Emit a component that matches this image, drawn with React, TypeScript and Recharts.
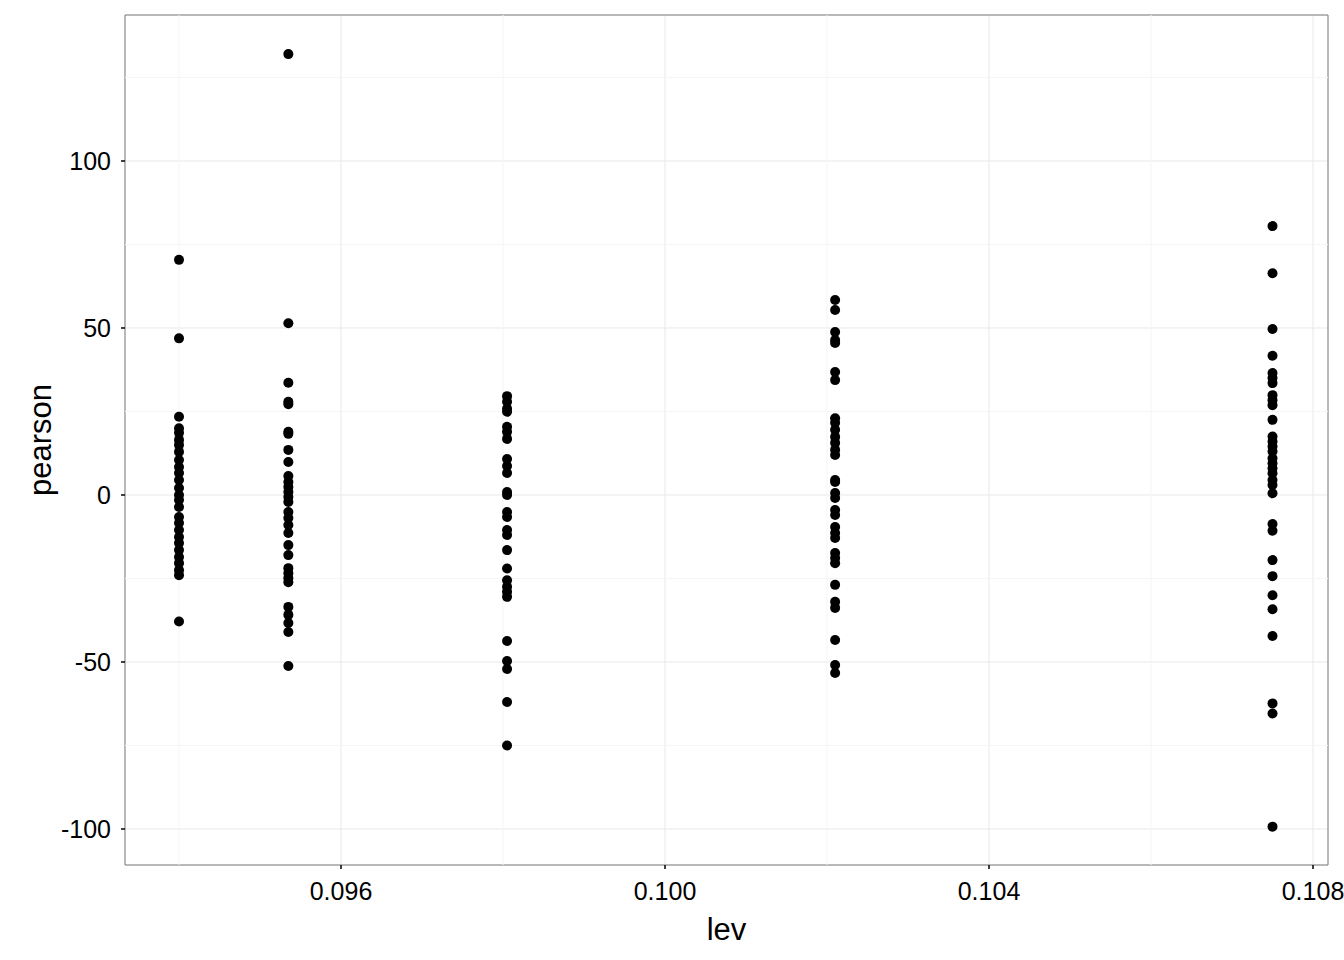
import React from "react";
import {
  ScatterChart,
  Scatter,
  XAxis,
  YAxis,
  CartesianGrid,
  ReferenceLine,
  ReferenceArea,
} from "recharts";

// leverage values (one per group) and pearson residuals
const levels = [0.094, 0.09535, 0.09805, 0.1021, 0.1075];

const pearsonA = [
  70.4, 46.9, 23.4, 20, 18.6, 16.5, 15, 12.9, 10.5, 8.4, 6.6, 4.5, 2.1, 0, -1.5,
  -3.6, -6.6, -8.4, -10.5, -12.6, -14.4, -16.5, -18.6, -20.4, -22.5, -24, -37.9,
];
const pearsonB = [
  132, 51.4, 33.6, 27.9, 27.2, 18.9, 18.3, 13.5, 9.9, 5.7, 3.9, 2.4, 0.9, -0.6,
  -2.1, -5.1, -6.9, -9, -11.4, -15, -18, -21.9, -23.4, -24.9, -26.1, -33.5,
  -35.9, -38.3, -41, -51.2,
];
const pearsonC = [
  29.6, 27.9, 25.8, 24.9, 20.4, 18.9, 16.8, 10.8, 8.7, 6.6, 0.9, 0, -5.1, -6.6,
  -10.5, -12, -16.5, -22, -25.5, -27.5, -29, -30.5, -43.7, -49.7, -52.1, -62,
  -75,
];
const pearsonD = [
  58.4, 55.4, 48.8, 46.4, 45.5, 36.8, 34.4, 23, 21.6, 19.5, 17.4, 15.6, 13.5,
  12, 4.5, 3.9, 0.6, -0.9, -4.5, -6, -9.6, -11.4, -12.9, -17.4, -18.9, -20.4,
  -26.9, -32, -33.8, -43.4, -50.9, -53.3,
];
const pearsonE = [
  80.5, 66.4, 49.7, 41.7, 36.5, 35, 33.5, 29.9, 28.4, 26.9, 22.5, 17.5, 16,
  14.5, 13, 11, 9.5, 8, 6.5, 4.5, 3, 0.5, -8.7, -10.7, -19.5, -24.3, -30, -34.2,
  -42.2, -62.4, -65.4, -99.3,
];

const groups = [pearsonA, pearsonB, pearsonC, pearsonD, pearsonE];

const xTicks = [0.096, 0.1, 0.104, 0.108];
const xMinor = [0.094, 0.098, 0.102, 0.106];
const yTicks = [-100, -50, 0, 50, 100];
const yMinor = [-75, -25, 25, 75, 125];

const X_DOMAIN: [number, number] = [0.0933333, 0.108185];
const Y_DOMAIN: [number, number] = [-110.78, 143.71];

const points = groups.flatMap((vals, i) =>
  vals.map((p) => ({ lev: levels[i], pearson: p }))
);

const FONT = "Arial, 'Liberation Sans', sans-serif";

const Dot = (props: any) => {
  const { cx, cy } = props;
  if (cx == null || cy == null) return null;
  return <circle cx={cx} cy={cy} r={5} fill="#000" />;
};

export default function App() {
  return (
    <div
      style={{
        position: "absolute",
        top: 0,
        left: 0,
        width: 1344,
        height: 960,
        background: "#fff",
      }}
    >
      <ScatterChart
        width={1344}
        height={960}
        margin={{ top: 15, right: 16, bottom: 0, left: 0 }}
      >
        <CartesianGrid stroke="#e8e8e8" strokeWidth={1} />
        {xMinor.map((v) => (
          <ReferenceLine key={"xm" + v} x={v} stroke="#f5f5f5" strokeWidth={1} />
        ))}
        {yMinor.map((v) => (
          <ReferenceLine key={"ym" + v} y={v} stroke="#f5f5f5" strokeWidth={1} />
        ))}
        <XAxis
          type="number"
          dataKey="lev"
          domain={X_DOMAIN}
          ticks={xTicks}
          tickFormatter={(v: number) => v.toFixed(3)}
          allowDataOverflow
          height={95}
          axisLine={false}
          tickSize={4}
          tickMargin={13}
          tickLine={{ stroke: "#000", strokeWidth: 1.5 }}
          tick={{ fill: "#000", fontSize: 25, fontFamily: FONT }}
          label={{
            value: "lev",
            position: "insideBottom",
            offset: 20,
            fill: "#000",
            fontSize: 31,
            fontFamily: FONT,
          }}
        />
        <YAxis
          type="number"
          dataKey="pearson"
          domain={Y_DOMAIN}
          ticks={yTicks}
          allowDataOverflow
          width={125}
          axisLine={false}
          tickSize={4}
          tickMargin={10}
          tickLine={{ stroke: "#000", strokeWidth: 1.5 }}
          tick={{ fill: "#000", fontSize: 25, fontFamily: FONT }}
          label={{
            value: "pearson",
            angle: -90,
            position: "insideLeft",
            offset: 40,
            style: { textAnchor: "middle" },
            fill: "#000",
            fontSize: 31,
            fontFamily: FONT,
          }}
        />
        <ReferenceArea
          x1={X_DOMAIN[0]}
          x2={X_DOMAIN[1]}
          y1={Y_DOMAIN[0]}
          y2={Y_DOMAIN[1]}
          fill="none"
          stroke="#7f7f7f"
          strokeWidth={1}
        />
        <Scatter data={points} shape={<Dot />} isAnimationActive={false} />
      </ScatterChart>
    </div>
  );
}
